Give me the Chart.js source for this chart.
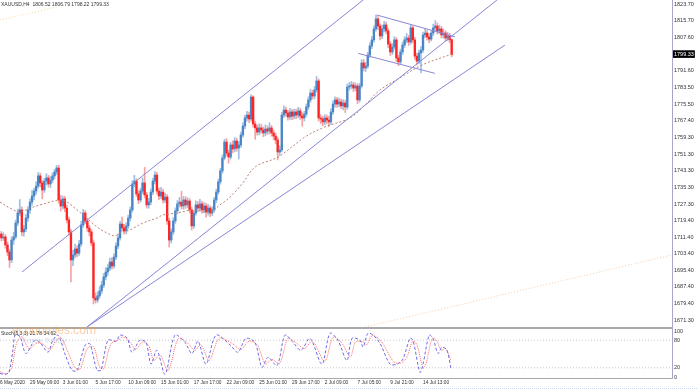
<!DOCTYPE html>
<html>
<head>
<meta charset="utf-8">
<script src="https://cdn.jsdelivr.net/npm/chart.js@4.4.1/dist/chart.umd.min.js"></script>
<style>
  body { margin: 0; background: #fff; width: 697px; height: 392px; overflow: hidden; position: relative;
         font-family: 'Liberation Sans', Arial, sans-serif; }
  canvas { position: absolute; left: 0; }
  #main { top: 0; }
  #stoch { top: 327px; }
  .ln { position: absolute; }
  .txt { position: absolute; white-space: nowrap; }
</style>
</head>
<body>
<canvas id="main" width="697" height="327"></canvas>
<canvas id="stoch" width="697" height="65"></canvas>

<div class="ln" style="left:0;top:327px;width:672px;height:2px;background:#a9a9a9"></div>
<div class="ln" style="left:672px;top:0;width:1px;height:378px;background:#aaa6c6"></div>
<div class="ln" style="left:0;top:378px;width:673px;height:1px;background:#a9a9a9"></div>
<div class="ln" style="left:0;top:388px;width:697px;height:0;border-top:1px dotted #c9d6ee"></div>

<div class="txt" style="left:1px;top:1px;font-size:5px;color:#333">XAUUSD,H4&nbsp; 1806.52 1806.79 1798.22 1799.33</div>
<div class="txt" style="left:1px;top:330px;font-size:5px;color:#333">Stoch(5,3,3) 21.78 34.62</div>
<div class="txt" style="left:12px;top:323px;font-size:12px;color:rgba(240,160,80,0.5)">economies.com</div>
<div class="txt" style="left:22px;top:336px;font-size:8px;color:rgba(150,165,200,0.4)">Forex Today</div>

<script>
// XAUUSD H4, 26 May 2020 17:00 .. 16 Jul 2020
const opens = [1710.5,1711.9,1712.9,1711.0,1711.5,1707.6,1704.2,1700.4,1710.0,1711.5,
  1718.2,1723.0,1724.5,1713.9,1715.3,1720.6,1724.5,1728.3,1731.2,1733.6,
  1736.0,1740.9,1737.5,1734.1,1738.4,1739.9,1737.0,1738.9,1740.9,1742.8,
  1744.7,1729.3,1726.4,1729.8,1725.4,1719.7,1713.9,1700.4,1702.8,1705.7,
  1703.7,1708.1,1717.3,1723.0,1719.2,1715.8,1713.9,1708.6,1682.1,1681.1,
  1683.1,1685.5,1688.3,1692.2,1694.6,1696.5,1699.4,1697.5,1701.8,1707.1,
  1711.0,1717.7,1715.8,1714.4,1716.8,1720.6,1724.5,1737.0,1738.4,1732.2,
  1729.3,1733.6,1737.5,1731.7,1726.9,1728.3,1733.1,1738.4,1741.3,1733.6,
  1731.2,1733.1,1729.3,1730.7,1719.2,1710.0,1713.9,1719.2,1724.0,1727.4,
  1728.3,1726.4,1729.3,1726.9,1728.8,1724.5,1716.8,1723.0,1726.9,1725.4,
  1727.4,1724.5,1726.4,1723.5,1725.4,1723.0,1724.5,1729.3,1733.1,1738.0,
  1743.3,1749.5,1757.2,1751.9,1750.0,1755.8,1753.9,1757.7,1754.3,1755.8,
  1760.6,1764.9,1768.8,1770.2,1768.3,1778.9,1765.9,1764.0,1762.0,1764.0,
  1763.0,1761.6,1763.5,1762.5,1764.0,1761.6,1760.1,1758.2,1752.4,1753.4,
  1770.2,1772.6,1771.2,1769.3,1771.7,1769.7,1771.7,1770.2,1772.2,1769.7,
  1768.8,1770.7,1774.1,1777.5,1780.8,1779.4,1782.3,1786.6,1768.8,1768.3,
  1766.9,1768.8,1767.8,1766.9,1771.7,1775.5,1777.5,1775.5,1776.5,1774.6,
  1776.0,1774.1,1783.7,1784.2,1784.7,1783.2,1784.2,1777.5,1784.2,1795.3,
  1792.9,1793.8,1799.1,1803.5,1806.4,1811.7,1816.5,1813.1,1808.3,1811.7,
  1813.6,1810.7,1804.4,1800.6,1803.0,1806.4,1797.7,1795.8,1800.6,1803.9,
  1806.4,1807.3,1805.4,1812.2,1806.4,1798.6,1796.2,1800.1,1801.5,1808.8,
  1809.7,1807.8,1806.8,1809.7,1812.2,1813.1,1810.7,1811.7,1808.8,1809.7,
  1807.3,1808.3,1806.52];
const highs = [1713.4,1715.0,1714.1,1713.5,1712.6,1709.0,1705.5,1711.6,1713.8,1719.6,
  1724.9,1729.5,1726.0,1717.0,1722.2,1726.1,1729.8,1733.9,1735.0,1738.1,
  1742.5,1742.2,1738.6,1739.8,1742.0,1741.2,1740.6,1742.3,1744.0,1745.9,
  1746.0,1731.6,1731.2,1731.0,1726.8,1721.0,1715.2,1705.0,1708.0,1707.2,
  1709.8,1719.0,1724.8,1724.2,1720.5,1717.1,1715.0,1710.0,1684.5,1685.0,
  1687.6,1690.2,1693.9,1696.7,1698.2,1701.3,1701.6,1703.3,1708.6,1713.0,
  1719.0,1721.0,1717.6,1718.3,1722.0,1726.0,1738.6,1741.2,1739.5,1733.8,
  1735.0,1739.9,1745.0,1733.0,1730.1,1734.6,1739.8,1743.0,1742.6,1735.0,
  1735.4,1734.6,1732.5,1731.9,1720.6,1715.4,1720.8,1725.5,1729.0,1730.5,
  1733.5,1731.0,1730.9,1730.4,1729.9,1725.8,1724.3,1728.9,1728.5,1729.6,
  1728.8,1728.0,1727.7,1727.2,1726.5,1726.0,1730.6,1734.5,1739.4,1744.6,
  1751.0,1758.5,1758.9,1753.3,1757.0,1757.8,1759.4,1759.0,1757.5,1762.0,
  1766.5,1770.1,1772.0,1771.6,1780.0,1779.5,1767.3,1765.4,1766.0,1765.8,
  1764.5,1765.5,1765.0,1766.5,1765.2,1763.0,1761.5,1759.4,1755.4,1771.5,
  1774.6,1774.0,1772.5,1773.4,1773.0,1773.1,1773.0,1773.9,1773.5,1771.3,
  1772.0,1775.6,1779.0,1782.5,1782.2,1784.0,1788.8,1787.6,1770.5,1769.6,
  1770.4,1770.2,1769.6,1773.2,1777.0,1779.0,1778.7,1778.4,1777.9,1777.6,
  1777.4,1785.1,1786.0,1786.4,1786.0,1785.7,1785.2,1785.5,1796.8,1797.0,
  1795.6,1800.4,1805.0,1808.0,1813.2,1818.4,1817.6,1814.2,1813.5,1815.4,
  1815.0,1811.8,1805.6,1804.6,1808.0,1807.5,1799.0,1802.0,1805.4,1808.0,
  1809.5,1808.6,1813.6,1813.2,1807.6,1800.0,1801.5,1803.2,1810.2,1811.8,
  1811.0,1809.5,1811.0,1814.0,1815.7,1814.6,1813.5,1812.9,1811.5,1810.8,
  1810.0,1809.6,1806.79];
const lows = [1708.9,1710.8,1709.6,1709.8,1706.0,1702.5,1696.8,1699.1,1707.9,1710.6,
  1716.9,1721.8,1712.0,1711.8,1714.0,1719.0,1722.9,1726.8,1729.5,1732.1,
  1735.0,1735.6,1729.8,1732.9,1736.6,1735.5,1735.2,1737.6,1739.5,1741.6,
  1727.8,1723.9,1724.9,1723.6,1718.2,1712.5,1689.8,1697.6,1701.5,1701.9,
  1702.6,1707.0,1716.1,1717.9,1714.1,1712.0,1707.2,1679.2,1679.6,1679.9,
  1682.0,1684.1,1687.0,1690.8,1693.0,1695.2,1695.9,1696.4,1700.5,1705.8,
  1709.9,1714.3,1712.8,1713.0,1715.5,1719.2,1723.5,1735.6,1730.9,1727.5,
  1728.2,1732.4,1730.2,1725.4,1725.3,1727.0,1731.9,1737.0,1732.1,1729.4,
  1729.9,1727.8,1728.0,1717.5,1706.6,1708.6,1712.7,1718.0,1722.6,1725.9,
  1725.0,1724.8,1725.3,1725.5,1723.0,1714.8,1715.6,1721.9,1723.7,1724.0,
  1722.9,1723.0,1721.0,1722.0,1721.2,1721.8,1723.4,1728.0,1732.0,1736.9,
  1742.2,1748.6,1750.5,1747.0,1749.0,1752.0,1752.5,1752.8,1749.0,1754.6,
  1759.5,1763.6,1767.2,1766.5,1767.2,1764.4,1758.5,1760.5,1760.6,1761.4,
  1759.8,1760.2,1760.8,1761.1,1760.0,1758.3,1756.3,1748.6,1750.7,1752.4,
  1769.0,1769.6,1767.7,1768.1,1768.0,1768.4,1768.5,1768.9,1768.1,1764.8,
  1767.4,1769.5,1772.9,1776.3,1777.9,1778.0,1781.3,1767.3,1766.0,1765.0,
  1765.5,1766.0,1764.6,1765.7,1770.5,1774.0,1773.9,1774.1,1773.2,1772.7,
  1771.4,1773.0,1782.2,1782.8,1781.5,1781.9,1775.6,1776.4,1783.2,1791.4,
  1791.2,1792.7,1798.0,1802.2,1805.2,1810.6,1811.5,1806.4,1807.0,1810.3,
  1809.3,1802.6,1798.9,1799.4,1801.9,1796.0,1794.0,1794.6,1799.4,1802.8,
  1805.0,1803.7,1804.3,1805.0,1797.0,1794.4,1795.0,1790.5,1800.4,1807.5,
  1806.3,1805.1,1805.9,1808.5,1811.0,1809.2,1809.5,1807.3,1807.2,1805.8,
  1806.0,1805.0,1798.22];
const closes = [1711.9,1712.9,1711.0,1711.5,1707.6,1704.2,1700.4,1710.0,1711.5,1718.2,
  1723.0,1724.5,1713.9,1715.3,1720.6,1724.5,1728.3,1731.2,1733.6,1736.0,
  1740.9,1737.5,1734.1,1738.4,1739.9,1737.0,1738.9,1740.9,1742.8,1744.7,
  1729.3,1726.4,1729.8,1725.4,1719.7,1713.9,1700.4,1702.8,1705.7,1703.7,
  1708.1,1717.3,1723.0,1719.2,1715.8,1713.9,1708.6,1682.1,1681.1,1683.1,
  1685.5,1688.3,1692.2,1694.6,1696.5,1699.4,1697.5,1701.8,1707.1,1711.0,
  1717.7,1715.8,1714.4,1716.8,1720.6,1724.5,1737.0,1738.4,1732.2,1729.3,
  1733.6,1737.5,1731.7,1726.9,1728.3,1733.1,1738.4,1741.3,1733.6,1731.2,
  1733.1,1729.3,1730.7,1719.2,1710.0,1713.9,1719.2,1724.0,1727.4,1728.3,
  1726.4,1729.3,1726.9,1728.8,1724.5,1716.8,1723.0,1726.9,1725.4,1727.4,
  1724.5,1726.4,1723.5,1725.4,1723.0,1724.5,1729.3,1733.1,1738.0,1743.3,
  1749.5,1757.2,1751.9,1750.0,1755.8,1753.9,1757.7,1754.3,1755.8,1760.6,
  1764.9,1768.8,1770.2,1768.3,1778.9,1765.9,1764.0,1762.0,1764.0,1763.0,
  1761.6,1763.5,1762.5,1764.0,1761.6,1760.1,1758.2,1752.4,1753.4,1770.2,
  1772.6,1771.2,1769.3,1771.7,1769.7,1771.7,1770.2,1772.2,1769.7,1768.8,
  1770.7,1774.1,1777.5,1780.8,1779.4,1782.3,1786.6,1768.8,1768.3,1766.9,
  1768.8,1767.8,1766.9,1771.7,1775.5,1777.5,1775.5,1776.5,1774.6,1776.0,
  1774.1,1783.7,1784.2,1784.7,1783.2,1784.2,1777.5,1784.2,1795.3,1792.9,
  1793.8,1799.1,1803.5,1806.4,1811.7,1816.5,1813.1,1808.3,1811.7,1813.6,
  1810.7,1804.4,1800.6,1803.0,1806.4,1797.7,1795.8,1800.6,1803.9,1806.4,
  1807.3,1805.4,1812.2,1806.4,1798.6,1796.2,1800.1,1801.5,1808.8,1809.7,
  1807.8,1806.8,1809.7,1812.2,1813.1,1810.7,1811.7,1808.8,1809.7,1807.3,
  1808.3,1806.5,1799.33];
const lastPrice = 1799.33;

// moving average, read at points (bar index, price)
const maBars   = [1.3, 6.2, 11.1, 16.0, 20.9, 25.8, 30.7, 34.1, 39.0, 43.8, 48.7, 53.6, 57.5, 60.0, 64.9, 71.2, 78.0, 81.0, 87.8, 95.6, 104.0, 108.8, 113.7, 119.6, 126.0, 137.2, 150.3, 160.1, 172.3, 179.7, 187.0, 196.7, 207.5, 222.2];
const maValues = [1728.3, 1725.4, 1723.5, 1725.4, 1726.9, 1728.3, 1729.3, 1728.3, 1724.5, 1720.6, 1716.3, 1713.4, 1711.9, 1713.4, 1714.9, 1718.2, 1720.6, 1722.1, 1723.0, 1724.5, 1723.5, 1726.9, 1730.7, 1737.0, 1745.2, 1750.0, 1759.6, 1764.5, 1768.8, 1775.1, 1782.3, 1788.1, 1794.3, 1799.6];

// drawn trend lines: [bar, price] end points
const upperChannel = [[12.09, 1694.6], [178.7, 1825.6]];
const lowerChannelA = [[43.84, 1668.1], [244.1, 1825.6]];
const lowerChannelB = [[43.84, 1668.1], [248.0, 1803.9]];
const flagTop = [[185.4, 1818.4], [223.6, 1807.9]];
const flagBottom = [[176.4, 1799.9], [213.8, 1790.3]];
const yellowLine = [[1.34, 1816.0], [29.2, 1822.3]];
const peachLine = [[179.7, 1668.1], [329.6, 1702.8]];

// stochastic %K and %D, read at points
const stochKBars = [1.3,3.8,5.7,7.7,8.7,11.1,14.0,18.4,20.9,24.8,27.2,29.7,33.1,36.5,39.0,42.9,45.3,48.7,50.7,54.1,58.0,60.0,63.4,65.8,69.7,72.7,75.1,78.0,82.0,86.8,91.7,95.1,98.1,102.0,106.9,113.7,117.6,121.5,125.9,129.3,132.3,136.7,140.6,144.5,148.4,152.8,158.6,162.5,166.4,170.8,173.3,177.2,178.7,181.1,183.6,187.0,191.9,195.3,198.2,201.6,203.1,206.5,208.0,211.0,212.9,215.3,217.3,219.7,221.7];
const stochK = [8,6,10,60,91,88,51,80,75,54,80,91,50,15,14,69,72,15,15,80,78,91,85,54,80,75,28,58,6,91,75,51,78,28,91,70,54,84,75,21,43,25,91,75,58,84,28,95,80,36,84,80,65,95,91,73,28,28,39,84,80,10,28,91,84,51,65,58,17];
const stochDBars = [1.3,4.5,7,9.5,12,15.5,19.5,22,26,28.5,31,34.5,38,40.5,44,47,50,52,55.5,59,61.5,65,67.5,71,74,76.5,79.5,83.5,88.5,93,96.5,99.5,103.5,108.5,115,119,123,127,131,134,138,142,146,150,154,160,164,168,172.5,175,179,180.5,183,185.5,188.5,193.5,197,200,203,205,208,209.5,212.5,214.5,217,219,221.7];
const stochD = [12,7,20,75,88,62,74,72,60,78,86,55,20,18,62,66,22,18,72,80,87,76,60,76,68,36,48,14,84,74,58,70,36,84,72,60,78,70,28,38,30,84,74,62,78,34,86,76,44,76,76,70,90,86,72,34,30,42,78,70,20,30,84,80,58,62,35];
const stochLevels = [0, 20, 80, 100];
const stochDotted = [20, 80];

const priceTicks = [1823.70,1815.70,1807.60,1799.33,1791.60,1783.50,1775.50,1767.40,1759.30,1751.30,1743.30,1735.30,1727.30,1719.40,1711.40,1703.40,1695.40,1687.40,1679.40,1671.30];
const timeTickBars = [0,16,32,48,64,80,96,112,128,144,160,176,192,208];
const timeLabels = ['26 May 2020','29 May 09:00','3 Jun 01:00','5 Jun 17:00','10 Jun 09:00','15 Jun 01:00','17 Jun 17:00','22 Jun 09:00','25 Jun 01:00','29 Jun 17:00','2 Jul 09:00','7 Jul 05:00','9 Jul 21:00','14 Jul 13:00'];

const xMin = 1.343, xMax = 329.63;
const bull = '#4a86c6', bear = '#ff2424', bullWick = '#9dc0e3', bearWick = '#f6a2a2';

Chart.defaults.font.family = "'Liberation Sans', Arial, sans-serif";
Chart.defaults.animation = false;

const isUp = i => closes[i] >= opens[i];
const idx = closes.map((_, i) => i);

function seg(points, color, dash) {
  return {
    type: 'line', data: points.map(p => ({x: p[0], y: p[1]})),
    borderColor: color, borderWidth: 1, borderDash: dash || [],
    pointRadius: 0, fill: false, tension: 0, order: 0
  };
}
const noPad = s => { s.paddingTop = 0; s.paddingBottom = 0; s.paddingLeft = 0; s.paddingRight = 0; };

new Chart(document.getElementById('main'), {
  type: 'bar',
  data: {
    datasets: [
      {
        data: idx.map(i => ({x: i, y: [lows[i], highs[i]]})),
        backgroundColor: ctx => isUp(ctx.dataIndex) ? bullWick : bearWick,
        barThickness: 1, grouped: false, order: 3, borderWidth: 0
      },
      {
        data: idx.map(i => ({x: i, y: [opens[i], closes[i]]})),
        backgroundColor: ctx => isUp(ctx.dataIndex) ? bull : bear,
        barThickness: 1.7, grouped: false, order: 2, borderWidth: 0, minBarLength: 1
      },
      {
        type: 'line', data: maBars.map((b, i) => ({x: b, y: maValues[i]})),
        borderColor: '#b98474', borderWidth: 1, borderDash: [2, 2],
        pointRadius: 0, tension: 0.35, order: 1
      },
      seg(upperChannel, '#8686d8'),
      seg(lowerChannelA, '#8686d8'),
      seg(lowerChannelB, '#8686d8'),
      seg(flagTop, '#8a86d8'),
      seg(flagBottom, '#8a86d8'),
      seg(yellowLine, '#f0dc90', [1, 2]),
      seg(peachLine, '#f7cba8', [1, 2])
    ]
  },
  options: {
    responsive: false, maintainAspectRatio: false,
    layout: {padding: 0},
    plugins: {legend: {display: false}, tooltip: {enabled: false}},
    scales: {
      x: {type: 'linear', min: xMin, max: xMax, offset: false, display: false},
      y: {
        position: 'right', min: 1668.1, max: 1825.63,
        grid: {display: false, drawTicks: false}, border: {display: false},
        afterBuildTicks: s => { s.ticks = priceTicks.map(v => ({value: v})); },
        afterFit: s => { s.width = 25; noPad(s); },
        ticks: {
          autoSkip: false, padding: 2, font: {size: 5.5},
          color: ctx => ctx.tick && ctx.tick.value === lastPrice ? '#fff' : '#333',
          showLabelBackdrop: ctx => !!ctx.tick && ctx.tick.value === lastPrice,
          backdropColor: '#000', backdropPadding: {top: 1, bottom: 0, left: 1, right: 1},
          callback: v => v.toFixed(2)
        }
      }
    }
  }
});

new Chart(document.getElementById('stoch'), {
  type: 'line',
  data: {
    datasets: [
      {
        data: stochKBars.map((b, i) => ({x: b, y: stochK[i]})),
        borderColor: '#6b6be6', borderWidth: 1, borderDash: [3, 2], pointRadius: 0, tension: 0.3
      },
      {
        data: stochDBars.map((b, i) => ({x: b, y: stochD[i]})),
        borderColor: '#ff6b6b', borderWidth: 1, borderDash: [1, 1], pointRadius: 0, tension: 0.3
      },
      ...stochDotted.map(v => ({
        data: [{x: xMin, y: v}, {x: xMax, y: v}],
        borderColor: '#c4c4c4', borderWidth: 1, borderDash: [1, 2], pointRadius: 0
      }))
    ]
  },
  options: {
    responsive: false, maintainAspectRatio: false,
    layout: {padding: {top: 4}},
    plugins: {legend: {display: false}, tooltip: {enabled: false}},
    scales: {
      x: {
        type: 'linear', min: xMin, max: xMax, offset: false,
        grid: {display: false, drawTicks: false}, border: {display: false},
        afterBuildTicks: s => { s.ticks = timeTickBars.map(v => ({value: v})); },
        afterFit: s => { s.height = 15; noPad(s); },
        ticks: {
          autoSkip: false, maxRotation: 0, minRotation: 0, align: 'start', padding: 3,
          font: {size: 4.8}, color: '#333', callback: (v, i) => timeLabels[i]
        }
      },
      y: {
        position: 'right', min: 0, max: 100,
        grid: {display: false, drawTicks: false}, border: {display: false},
        afterBuildTicks: s => { s.ticks = stochLevels.map(v => ({value: v})); },
        afterFit: s => { s.width = 25; noPad(s); },
        ticks: {autoSkip: false, padding: 2, font: {size: 5.5}, color: '#333'}
      }
    }
  }
});
</script>
</body>
</html>
